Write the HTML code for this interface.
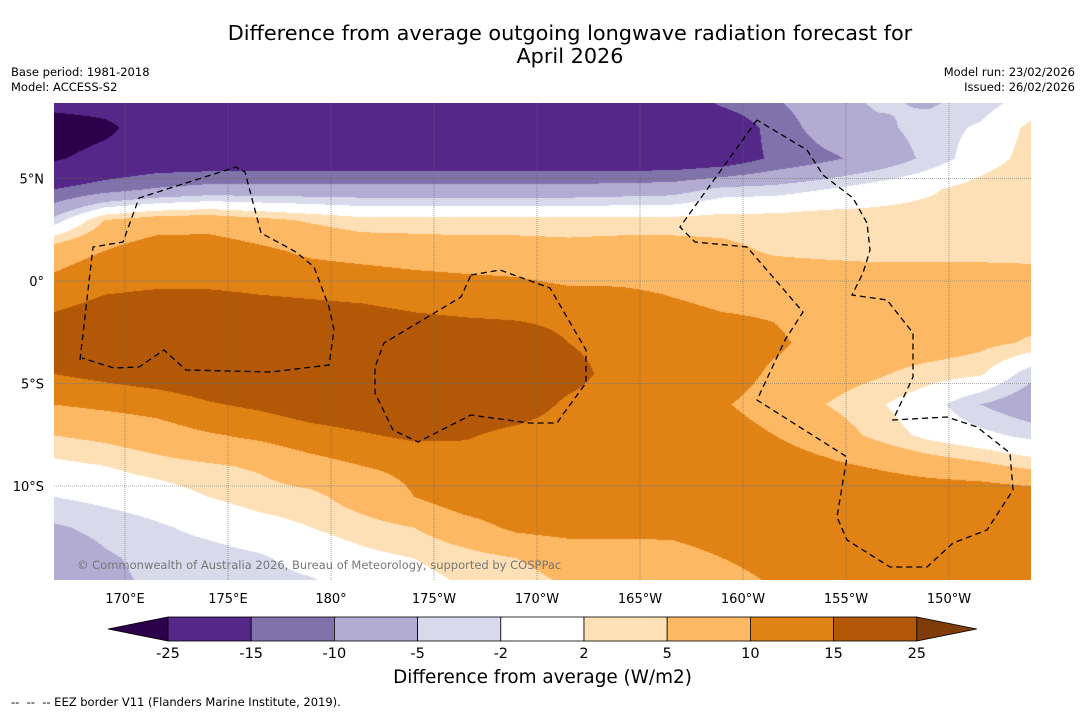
<!DOCTYPE html>
<html><head><meta charset="utf-8"><style>
body{margin:0;background:#fff;width:1085px;height:713px;overflow:hidden;font-family:"DejaVu Sans","Liberation Sans",sans-serif;position:relative}
.t{position:absolute;white-space:nowrap;color:#000}
canvas{position:absolute;left:54px;top:103px}
svg{position:absolute;left:0;top:0}
</style></head><body>
<div class="t" style="left:0;width:1140px;text-align:center;top:22px;font-size:20.8px;line-height:23px">Difference from average outgoing longwave radiation forecast for<br>April 2026</div>
<div class="t" style="left:11px;top:65px;font-size:11.5px;line-height:15px">Base period: 1981-2018<br>Model: ACCESS-S2</div>
<div class="t" style="right:10px;top:65px;font-size:11.5px;line-height:15px;text-align:right">Model run: 23/02/2026<br>Issued: 26/02/2026</div>
<canvas id="map" width="977" height="477"></canvas>
<svg id="ov" width="1085" height="713"></svg>
<div class="t" style="left:77px;top:558px;font-size:11.5px;color:#777">© Commonwealth of Australia 2026, Bureau of Meteorology, supported by COSPPac</div>
<div class="t" style="left:0;width:1085px;text-align:center;top:667px;font-size:18.4px">Difference from average (W/m2)</div>
<div class="t" style="left:11px;top:695px;font-size:11.5px">--&nbsp; --&nbsp; -- EEZ border V11 (Flanders Marine Institute, 2019).</div>
<script>
const lats=[9,7.5,6,4.5,3,1.5,0,-1.5,-3,-4.5,-6,-7.5,-9,-10.5,-12,-13.5,-15];
const lons=[166.5,169,171.5,174,176.5,179,181.5,184,186.5,189,191.5,194,196.5,199,201.5,204,206.5,209,211.5,214];
const r9=[-20,-20,-20,-20,-20,-20,-20,-20,-20,-20,-20,-20,-20,-12.5,-10,-7,-4,-6,-4,-1];
const r7=[-30,-27,-20,-20,-20,-20,-20,-20,-20,-20,-20,-20,-20,-20,-13,-7.5,-6,-3.5,-1.5,3];
const r6=[-26,-22,-20,-20,-20,-20,-20,-20,-20,-20,-20,-20,-20,-19,-14,-11,-8,-4,0,3.5];
const r4=[-15,-12,-9.5,-8,-8,-8,-8,-8,-8,-8,-8,-7.5,-7,-4,-3.5,-2,0,1.5,3.5,5];
const r3=[-4,5,7,7.5,6,4.5,3,3,3,3,3,3,3,3.5,3.5,4,3.5,3.5,3.5,3.5];
const r1=[7.5,10,13,13,11,9,8,7.5,7,7,6.5,7,7,6,4.5,4,3.5,3.5,3.5,3.5];
const r0=[11,13.5,14,14,13.5,13,12.5,11.5,11,10.5,9.5,9.5,9,8,7.5,7.5,7.5,7.5,7.5,7];
const s1=[15,17,18,18,17,16.5,16,15,14,13.5,13,12.5,11,10,9.5,7.5,7.5,7.5,7,6.5];
const s3=[19,20,21,21,21,21,21,21,20,19,15,13,12.5,12.5,11,8,7.5,7.5,6,4.5];
const s4=[15,16.5,18,19,19.5,20,20,20,20,20,17,13,12.5,13,9,7,5.5,3.5,2.5,-4];
const s6=[10,11,12,14.5,16,18,19,19,19,18,14,12.5,12.5,10.5,7.5,5,2.5,-0.5,-5,-8];
const s7=[5,6,7.5,9.5,11,13,14.5,16,15.5,13.5,12.5,12.5,12.5,12.5,10,7.5,4,1,-1,-3];
const s9=[1,2,3.5,4.5,5.5,8,10,11,12.5,12.5,12.5,12.5,12.5,12.5,12.5,11,9.5,7.5,6,4];
const s10=[-2,-1,0,2,3.5,4,7,10,13,13.5,13,13.5,14,14,14,14,14,14,14,13];
const s12=[-5.5,-4,-2.5,-1,0.5,2,3.5,5,8,11,12,11.5,11,12,13,14,14,14,14,14];
const s13=[-8,-5.5,-4,-3.5,-2.5,-0.5,1,2,3.5,5,6.5,7.5,8.5,10,11.5,12.5,13,13.5,14,14];
const s15=[-9,-6,-4.5,-4,-3.5,-3,-1,0.5,2,3.5,5,6,7,8,10,12,13,13,13.5,13.5];
const grid=[r9,r7,r6,r4,r3,r1,r0,s1,s3,s4,s6,s7,s9,s10,s12,s13,s15];
const levels=[-25,-15,-10,-5,-2,2,5,10,15,25];
const colors=['#2d004b','#542788','#8073ac','#b2abd2','#d8daeb','#ffffff','#fee0b6','#fdb863','#e08214','#b35806','#7f3b08'];
const lonTicks=[170,175,180,185,190,195,200,205,210];
const lonLabels=['170°E','175°E','180°','175°W','170°W','165°W','160°W','155°W','150°W'];
const latTicks=[5,0,-5,-10];
const latLabels=['5°N','0°','5°S','10°S'];
const xOf=lon=>331+(lon-180)*20.6, yOf=lat=>281-lat*20.5;
function val(lon,lat){
  let fi=(lon-lons[0])/2.5, fj=(lats[0]-lat)/1.5;
  fi=Math.max(0,Math.min(lons.length-1.001,fi)); fj=Math.max(0,Math.min(lats.length-1.001,fj));
  const i=Math.floor(fi),j=Math.floor(fj),a=fi-i,b=fj-j;
  return grid[j][i]*(1-a)*(1-b)+grid[j][i+1]*a*(1-b)+grid[j+1][i]*(1-a)*b+grid[j+1][i+1]*a*b;
}
function hex(c){return [parseInt(c.substr(1,2),16),parseInt(c.substr(3,2),16),parseInt(c.substr(5,2),16)];}
const rgb=colors.map(hex);
const cv=document.getElementById('map'),ctx=cv.getContext('2d'),img=ctx.createImageData(977,477);
for(let py=0;py<477;py++)for(let px=0;px<977;px++){
  const x=px+54,y=py+103,lon=180+(x-331)/20.6,lat=(281-y)/20.5,v=val(lon,lat);
  let k=0;while(k<levels.length&&v>=levels[k])k++;
  const c=rgb[k],o=(py*977+px)*4;img.data[o]=c[0];img.data[o+1]=c[1];img.data[o+2]=c[2];img.data[o+3]=255;
}
ctx.putImageData(img,0,0);
const NS='http://www.w3.org/2000/svg',sv=document.getElementById('ov');
function mk(t,at,txt){const e=document.createElementNS(NS,t);for(const k in at)e.setAttribute(k,at[k]);if(txt!==undefined)e.textContent=txt;sv.appendChild(e);return e;}
const FF='DejaVu Sans, Liberation Sans, sans-serif';
lonTicks.forEach((l,i)=>{const x=xOf(l);
  const g=mk('line',{x1:x,x2:x,y1:103,y2:580,stroke:'#666','stroke-width':0.6,'stroke-dasharray':'1,1'});
  
  
  const t=mk('text',{x:x,y:603,'font-size':13,'text-anchor':'middle','font-family':FF},lonLabels[i]);
  
  
});
latTicks.forEach((l,i)=>{const y=yOf(l);
  const g=mk('line',{x1:54,x2:1031,y1:y,y2:y,stroke:'#666','stroke-width':0.6,'stroke-dasharray':'1,1'});
  
  
  const t=mk('text',{x:44,y:y+5,'font-size':13,'text-anchor':'end','font-family':FF},latLabels[i]);
  
  
});
const eez=[
 [[80,360],[93,247],[123,242],[139,198],[236,167],[245,172],[261,233],[296,252],[314,267],[329,307],[334,330],[329,365],[271,372],[186,370],[164,350],[139,367],[114,368],[82,358]],
 [[471,275],[500,270],[550,288],[586,350],[586,383],[564,413],[557,423],[529,423],[471,415],[418,442],[393,430],[375,393],[375,367],[384,343],[436,312],[461,297],[471,275]],
 [[757,120],[680,227],[695,242],[747,247],[803,312],[785,340],[757,400],[847,457],[837,517],[847,540],[890,567],[927,567],[953,543],[987,530],[1013,490],[1010,453],[977,427],[947,417],[893,420],[913,377],[913,333],[887,300],[852,295],[863,273],[870,250],[867,223],[853,198],[823,175],[807,150],[757,120]]
];
eez.forEach(p=>{const e=mk('polyline',{points:p.map(q=>q.join(',')).join(' '),fill:'none',stroke:'#000','stroke-width':1.3,'stroke-dasharray':'6,4'});
  
  });
const cb0=168,cbw=83.2,cy=617,ch=24;
const lo=mk('polygon',{points:`108,${cy+ch/2} ${cb0},${cy} ${cb0},${cy+ch}`,fill:colors[0],stroke:'#000','stroke-width':0.8});


for(let k=1;k<levels.length;k++){
  const r=mk('rect',{x:cb0+(k-1)*cbw,y:cy,width:cbw,height:ch,fill:colors[k],stroke:'#000','stroke-width':0.8});
  
  
}
const xe=cb0+(levels.length-1)*cbw;
const hi=mk('polygon',{points:`${xe},${cy} ${xe+60},${cy+ch/2} ${xe},${cy+ch}`,fill:colors[colors.length-1],stroke:'#000','stroke-width':0.8});


levels.forEach((l,k)=>{const t=mk('text',{x:cb0+k*cbw,y:658,'font-size':14.5,'text-anchor':'middle','font-family':FF},String(l));
  
  });
</script>
</body></html>
